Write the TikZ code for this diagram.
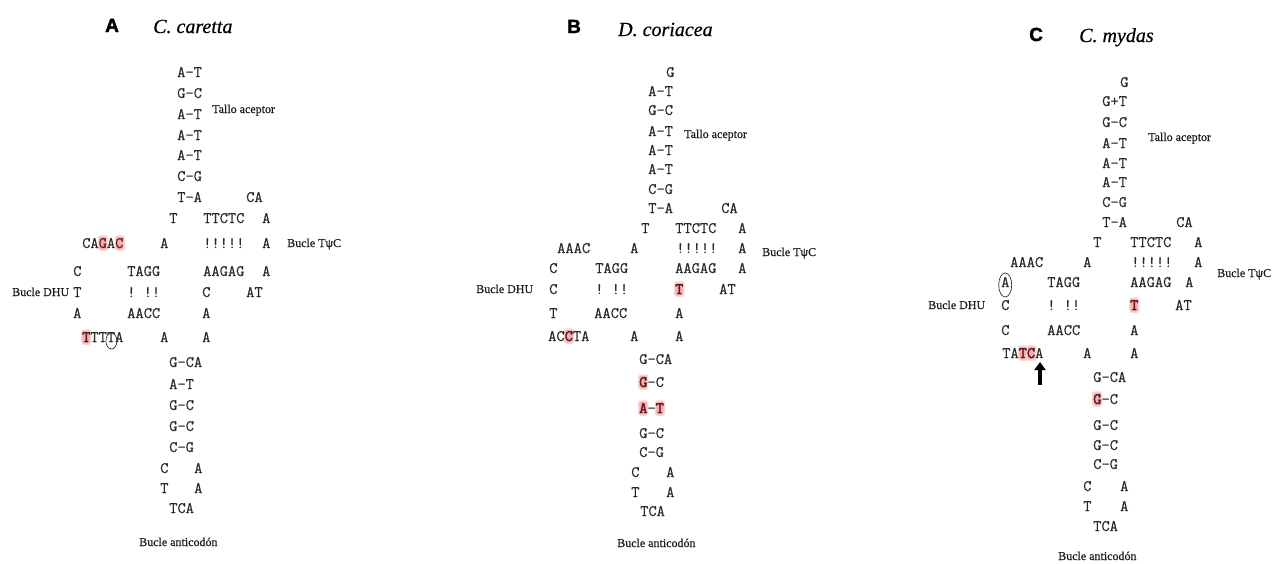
\documentclass[tikz,border=0pt]{standalone}
\usepackage{fontspec}
\setmainfont{Liberation Serif}
\newfontfamily\lblfont[FakeBold=0.5]{Liberation Serif}
\newfontfamily\spfont[FakeBold=0.6,ItalicFeatures={FakeBold=0.6}]{Liberation Serif}
\newfontfamily\seqfont[FakeBold=0.5]{Latin Modern Mono}
\newfontfamily\seqbf[FakeBold=2.2]{Latin Modern Mono}
\newfontfamily\headfont[BoldFeatures={FakeBold=2}]{Liberation Sans}
\usetikzlibrary{shapes.geometric,arrows.meta}

\definecolor{hlpink}{RGB}{242,176,178}
\definecolor{seqgray}{RGB}{40,40,40}
\definecolor{hlred}{RGB}{95,25,25}

\tikzset{
  seq/.style={font=\seqfont\fontsize{16}{18}\selectfont\frenchspacing, text=seqgray, inner sep=0pt, anchor=base west},
  lbl/.style={font=\lblfont\fontsize{12}{14}\selectfont, text=black!90, inner sep=0pt, anchor=base west},
  panel/.style={font=\headfont\bfseries\fontsize{19}{22}\selectfont, inner sep=0pt, anchor=base west},
  species/.style={font=\spfont\itshape\fontsize{20}{24}\selectfont, inner sep=0pt, anchor=base west},
  hlbox/.style={fill=hlpink, draw=hlpink!55, line width=1.5pt, rounded corners=1.5pt,
                minimum width=8.6pt, minimum height=14pt, inner sep=0pt},
  ringmark/.style={ellipse, draw=black!80, line width=0.7pt, inner sep=0pt},
  bigarrow/.style={line width=3.6pt, -{Triangle[width=11pt,length=8pt]}},
}

% sequence token: name, left x, row centre y, text
\newcommand\sq[4]{\node[seq] (#1) at (#2,#3+5) {#4};}
% highlight box behind one character: name, token x, char index, row centre y
\newcommand\hlc[4]{\node[hlbox] (#1) at ({#2+#3*8.4+4.2},#4) {};}
\newcommand\hb[1]{{\seqbf\color{hlred}#1}}
\newcommand\hn[1]{{\color{hlred}#1}}

\begin{document}
\begin{tikzpicture}[x=1pt,y=-1pt]
\useasboundingbox (0,0) rectangle (1275,563);

% ---------------- A : C. caretta ----------------
\node[panel] (pA) at (105,32) {A};
\node[species] (nA) at (153,33) {C. caretta};
\sq{aS1}{177}{72}{A–T}
\sq{aS2}{177}{93}{G–C}
\sq{aS3}{177}{114}{A–T}
\sq{aS4}{177}{135}{A–T}
\sq{aS5}{177}{155}{A–T}
\sq{aS6}{177}{176}{C–G}
\sq{aS7}{177}{197}{T–A}
\node[lbl] (aTallo) at (212,113) {Tallo aceptor};
\sq{aCA}{246}{197}{CA}
\sq{aR1a}{169}{218}{T}
\sq{aR1b}{203}{218}{TTCTC}
\sq{aR1c}{262}{218}{A}
\hlc{aH1}{82}{2}{243}
\hlc{aH2}{82}{4}{243}
\sq{aR2a}{82}{243}{CA\hn{G}A\hn{C}}
\sq{aR2b}{160}{243}{A}
\sq{aR2c}{203}{243}{!!!!!}
\sq{aR2d}{262}{243}{A}
\node[lbl] (aTpsi) at (287,247) {Bucle TψC};
\sq{aR3a}{73}{271}{C}
\sq{aR3b}{127}{271}{TAGG}
\sq{aR3c}{203}{271}{AAGAG}
\sq{aR3d}{262}{271}{A}
\node[lbl] (aDHU) at (12,296) {Bucle DHU};
\sq{aR4a}{73}{292}{T}
\sq{aR4b}{127}{292}{! !!}
\sq{aR4c}{202}{292}{C}
\sq{aR4d}{246}{292}{AT}
\sq{aR5a}{73}{313}{A}
\sq{aR5b}{127}{313}{AACC}
\sq{aR5c}{202}{313}{A}
\hlc{aH3}{82}{0}{337}
\sq{aR6a}{82}{337}{\hb{T}TTTA}
\sq{aR6b}{160}{337}{A}
\sq{aR6c}{202}{337}{A}
\node[ringmark, minimum width=11pt, minimum height=16pt] (aRing) at (111.4,341) {};
\sq{aL1}{169}{362}{G–CA}
\sq{aL2}{169}{384}{A–T}
\sq{aL3}{169}{405}{G–C}
\sq{aL4}{169}{426}{G–C}
\sq{aL5}{169}{447}{C–G}
\sq{aL6a}{160}{468}{C}
\sq{aL6b}{194}{468}{A}
\sq{aL7a}{160}{488}{T}
\sq{aL7b}{194}{488}{A}
\sq{aL8}{169}{508}{TCA}
\node[lbl] (aAnti) at (139,546) {Bucle anticodón};

% ---------------- B : D. coriacea ----------------
\node[panel] (pB) at (567,33) {B};
\node[species] (nB) at (618,36) {D. coriacea};
\sq{bG}{666}{72}{G}
\sq{bS1}{648}{91}{A–T}
\sq{bS2}{648}{110}{G–C}
\sq{bS3}{648}{131}{A–T}
\sq{bS4}{648}{150}{A–T}
\sq{bS5}{648}{169}{A–T}
\sq{bS6}{648}{189}{C–G}
\sq{bS7}{648}{208}{T–A}
\node[lbl] (bTallo) at (684,138) {Tallo aceptor};
\sq{bCA}{721}{208}{CA}
\sq{bR1a}{641}{228}{T}
\sq{bR1b}{675}{228}{TTCTC}
\sq{bR1c}{738}{228}{A}
\sq{bR2a}{557}{248}{AAAC}
\sq{bR2b}{630}{248}{A}
\sq{bR2c}{676}{248}{!!!!!}
\sq{bR2d}{738}{248}{A}
\node[lbl] (bTpsi) at (762,256) {Bucle TψC};
\sq{bR3a}{549}{268}{C}
\sq{bR3b}{595}{268}{TAGG}
\sq{bR3c}{675}{268}{AAGAG}
\sq{bR3d}{738}{268}{A}
\node[lbl] (bDHU) at (476,293) {Bucle DHU};
\sq{bR4a}{549}{289}{C}
\sq{bR4b}{595}{289}{! !!}
\hlc{bH1}{675}{0}{289}
\sq{bR4c}{675}{289}{\hb{T}}
\sq{bR4d}{719}{289}{AT}
\sq{bR5a}{549}{313}{T}
\sq{bR5b}{594}{313}{AACC}
\sq{bR5c}{675}{313}{A}
\hlc{bH2}{548}{2}{336}
\sq{bR6a}{548}{336}{AC\hb{C}TA}
\sq{bR6b}{630}{336}{A}
\sq{bR6c}{675}{336}{A}
\sq{bL1}{639}{359}{G–CA}
\hlc{bH3}{639}{0}{382}
\sq{bL2}{639}{382}{\hb{G}–C}
\hlc{bH4}{639}{0}{408}
\hlc{bH5}{639}{2}{408}
\sq{bL3}{639}{408}{\hb{A}–\hb{T}}
\sq{bL4}{639}{433}{G–C}
\sq{bL5}{639}{452}{C–G}
\sq{bL6a}{631}{472}{C}
\sq{bL6b}{666}{472}{A}
\sq{bL7a}{631}{492}{T}
\sq{bL7b}{666}{492}{A}
\sq{bL8}{640}{511}{TCA}
\node[lbl] (bAnti) at (617,547) {Bucle anticodón};

% ---------------- C : C. mydas ----------------
\node[panel] (pC) at (1029,41) {C};
\node[species] (nC) at (1079,42) {C. mydas};
\sq{cG}{1120}{82}{G}
\sq{cS1}{1102}{101}{G+T}
\sq{cS2}{1102}{122}{G–C}
\sq{cS3}{1102}{143}{A–T}
\sq{cS4}{1102}{163}{A–T}
\sq{cS5}{1102}{182}{A–T}
\sq{cS6}{1102}{202}{C–G}
\sq{cS7}{1102}{222}{T–A}
\node[lbl] (cTallo) at (1148,141) {Tallo aceptor};
\sq{cCA}{1176}{222}{CA}
\sq{cR1a}{1093}{242}{T}
\sq{cR1b}{1130}{242}{TTCTC}
\sq{cR1c}{1194}{242}{A}
\sq{cR2a}{1010}{262}{AAAC}
\sq{cR2b}{1083}{262}{A}
\sq{cR2c}{1131}{262}{!!!!!}
\sq{cR2d}{1194}{262}{A}
\sq{cR3a}{1001}{282}{A}
\node[ringmark, minimum width=13pt, minimum height=24pt] (cRing) at (1005.2,285) {};
\sq{cR3b}{1047}{282}{TAGG}
\sq{cR3c}{1130}{282}{AAGAG}
\sq{cR3d}{1185}{282}{A}
\node[lbl] (cTpsi) at (1217,277) {Bucle TψC};
\node[lbl] (cDHU) at (928,309) {Bucle DHU};
\sq{cR4a}{1001}{305}{C}
\sq{cR4b}{1047}{305}{! !!}
\hlc{cH1}{1130}{0}{305}
\sq{cR4c}{1130}{305}{\hb{T}}
\sq{cR4d}{1175}{305}{AT}
\sq{cR5a}{1001}{330}{C}
\sq{cR5b}{1047}{330}{AACC}
\sq{cR5c}{1130}{330}{A}
\hlc{cH2}{1002}{2}{353}
\hlc{cH3}{1002}{3}{353}
\sq{cR6a}{1002}{353}{TA\hb{TC}A}
\sq{cR6b}{1083}{353}{A}
\sq{cR6c}{1130}{353}{A}
\coordinate (cArrTail) at (1040,385);
\coordinate (cArrTip) at (1040,362);
\draw[bigarrow] (cArrTail) -- (cArrTip);
\sq{cL1}{1093}{377}{G–CA}
\hlc{cH4}{1093}{0}{399}
\sq{cL2}{1093}{399}{\hb{G}–C}
\sq{cL3}{1093}{425}{G–C}
\sq{cL4}{1093}{445}{G–C}
\sq{cL5}{1093}{464}{C–G}
\sq{cL6a}{1083}{486}{C}
\sq{cL6b}{1120}{486}{A}
\sq{cL7a}{1083}{506}{T}
\sq{cL7b}{1120}{506}{A}
\sq{cL8}{1093}{526}{TCA}
\node[lbl] (cAnti) at (1058,560) {Bucle anticodón};
\end{tikzpicture}
\end{document}
